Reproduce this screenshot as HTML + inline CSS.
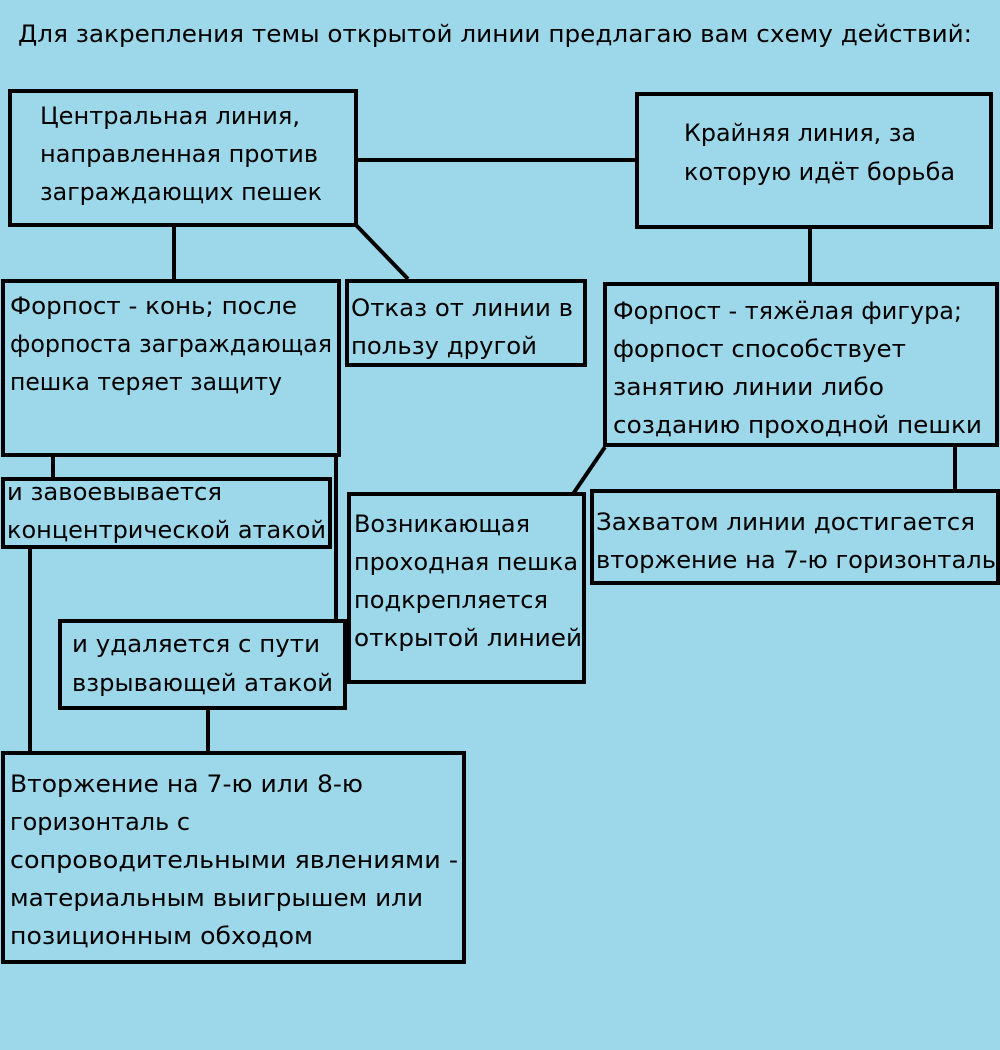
<!DOCTYPE html>
<html><head><meta charset="utf-8">
<style>
html,body{margin:0;padding:0;background:#9dd8ea;}
svg{display:block}
text{font-family:"DejaVu Sans","Liberation Sans",sans-serif;font-size:24px;fill:#000;}
</style></head>
<body>
<svg width="1000" height="1050" viewBox="0 0 1000 1050" xmlns="http://www.w3.org/2000/svg">
<rect width="1000" height="1050" fill="#9dd8ea"/>
<g lengthAdjust="spacingAndGlyphs">
<text x="18" y="42" textLength="954" lengthAdjust="spacingAndGlyphs">Для закрепления темы открытой линии предлагаю вам схему действий:</text>
</g>
<g fill="none" stroke="#000" stroke-width="4">
<rect x="10" y="91" width="346" height="134"/>
<rect x="637" y="94" width="354" height="133"/>
<rect x="3" y="281" width="336" height="174"/>
<rect x="347" y="281" width="238" height="84"/>
<rect x="605" y="284" width="392" height="161"/>
<rect x="3" y="479" width="327" height="68"/>
<rect x="349" y="494" width="235" height="188"/>
<rect x="592" y="491" width="406" height="92"/>
<rect x="60" y="621" width="285" height="87"/>
<rect x="3" y="753" width="461" height="209"/>
<line x1="356" y1="160" x2="637" y2="160"/>
<line x1="174" y1="225" x2="174" y2="281"/>
<line x1="356" y1="225" x2="408" y2="279"/>
<line x1="810" y1="227" x2="810" y2="284"/>
<line x1="53" y1="455" x2="53" y2="479"/>
<line x1="336" y1="455" x2="336" y2="621"/>
<line x1="605" y1="447" x2="573" y2="494"/>
<line x1="955" y1="445" x2="955" y2="491"/>
<line x1="30" y1="547" x2="30" y2="753"/>
<line x1="208" y1="708" x2="208" y2="753"/>
</g>
<text x="40" y="124" textLength="260" lengthAdjust="spacingAndGlyphs">Центральная линия,</text>
<text x="40" y="162" textLength="278" lengthAdjust="spacingAndGlyphs">направленная против</text>
<text x="40" y="200" textLength="282" lengthAdjust="spacingAndGlyphs">заграждающих пешек</text>
<text x="684" y="141" textLength="232" lengthAdjust="spacingAndGlyphs">Крайняя линия, за</text>
<text x="684" y="180" textLength="271" lengthAdjust="spacingAndGlyphs">которую идёт борьба</text>
<text x="10" y="314" textLength="287" lengthAdjust="spacingAndGlyphs">Форпост - конь; после</text>
<text x="10" y="352" textLength="322" lengthAdjust="spacingAndGlyphs">форпоста заграждающая</text>
<text x="10" y="390" textLength="272" lengthAdjust="spacingAndGlyphs">пешка теряет защиту</text>
<text x="351" y="316" textLength="222" lengthAdjust="spacingAndGlyphs">Отказ от линии в</text>
<text x="351" y="354" textLength="186" lengthAdjust="spacingAndGlyphs">пользу другой</text>
<text x="613" y="319" textLength="349" lengthAdjust="spacingAndGlyphs">Форпост - тяжёлая фигура;</text>
<text x="613" y="357" textLength="293" lengthAdjust="spacingAndGlyphs">форпост способствует</text>
<text x="613" y="395" textLength="271" lengthAdjust="spacingAndGlyphs">занятию линии либо</text>
<text x="613" y="433" textLength="369" lengthAdjust="spacingAndGlyphs">созданию проходной пешки</text>
<text x="7" y="500" textLength="215" lengthAdjust="spacingAndGlyphs">и завоевывается</text>
<text x="7" y="538" textLength="319" lengthAdjust="spacingAndGlyphs">концентрической атакой</text>
<text x="354" y="532" textLength="176" lengthAdjust="spacingAndGlyphs">Возникающая</text>
<text x="354" y="570" textLength="224" lengthAdjust="spacingAndGlyphs">проходная пешка</text>
<text x="354" y="608" textLength="194" lengthAdjust="spacingAndGlyphs">подкрепляется</text>
<text x="354" y="646" textLength="228" lengthAdjust="spacingAndGlyphs">открытой линией</text>
<text x="596" y="530" textLength="379" lengthAdjust="spacingAndGlyphs">Захватом линии достигается</text>
<text x="596" y="568" textLength="400" lengthAdjust="spacingAndGlyphs">вторжение на 7-ю горизонталь</text>
<text x="72" y="652" textLength="248" lengthAdjust="spacingAndGlyphs">и удаляется с пути</text>
<text x="72" y="691" textLength="261" lengthAdjust="spacingAndGlyphs">взрывающей атакой</text>
<text x="10" y="792" textLength="353" lengthAdjust="spacingAndGlyphs">Вторжение на 7-ю или 8-ю</text>
<text x="10" y="830" textLength="180" lengthAdjust="spacingAndGlyphs">горизонталь с</text>
<text x="10" y="868" textLength="448" lengthAdjust="spacingAndGlyphs">сопроводительными явлениями -</text>
<text x="10" y="906" textLength="413" lengthAdjust="spacingAndGlyphs">материальным выигрышем или</text>
<text x="10" y="944" textLength="303" lengthAdjust="spacingAndGlyphs">позиционным обходом</text>
</svg>
</body></html>
